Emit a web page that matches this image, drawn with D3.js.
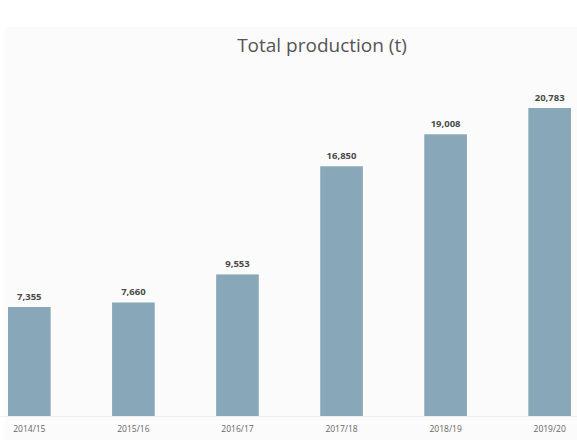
<!DOCTYPE html>
<html>
<head>
<meta charset="utf-8">
<style>
  body { margin: 0; background: #fff; }
  text { font-family: "Open Sans", "DejaVu Sans", sans-serif; }
</style>
</head>
<body>
<script src="https://d3js.org/d3.v7.min.js"></script>
<script>

var years = ["2014/15", "2015/16", "2016/17", "2017/18", "2018/19", "2019/20"];
var production = [7355, 7660, 9553, 16850, 19008, 20783];

var W = 577, H = 440;
var margin = {top: 108, right: 6, bottom: 24, left: 8};
var width = W - margin.left - margin.right,
    height = H - margin.top - margin.bottom;

var svg = d3.select("body").append("svg")
    .attr("width", W)
    .attr("height", H);

// faint panel behind the chart
svg.append("rect")
    .attr("x", 5).attr("y", 27)
    .attr("width", W - 5).attr("height", H - 27)
    .attr("fill", "#fbfbfb");

var g = svg.append("g")
    .attr("transform", "translate(" + margin.left + "," + margin.top + ")");

var x = d3.scaleBand()
    .domain(years)
    .range([0, width])
    .paddingInner(0.59)
    .paddingOuter(0);

var y = d3.scaleLinear()
    .domain([0, 20783])
    .range([height, 0]);

// baseline
g.append("line")
    .attr("x1", -8).attr("x2", width + 6)
    .attr("y1", height + 0.5).attr("y2", height + 0.5)
    .attr("stroke", "#eeeeee");

g.selectAll(".bar")
    .data(production)
  .enter().append("rect")
    .attr("class", "bar")
    .attr("x", function(d, i) { return x(years[i]); })
    .attr("y", function(d) { return y(d); })
    .attr("width", x.bandwidth())
    .attr("height", function(d) { return height - y(d); })
    .attr("fill", "#88a8ba");

g.selectAll(".val")
    .data(production)
  .enter().append("text")
    .attr("class", "val")
    .attr("x", function(d, i) { return x(years[i]) + x.bandwidth() / 2; })
    .attr("y", function(d) { return y(d) - 7; })
    .attr("text-anchor", "middle")
    .attr("font-size", 9.5)
    .attr("font-weight", "bold")
    .attr("fill", "#4a4a4a")
    .text(d3.format(","));

var xAxis = d3.axisBottom(x).tickSize(0).tickPadding(10);

g.append("g")
    .attr("transform", "translate(0," + height + ")")
    .call(xAxis)
    .call(function(s) { s.select(".domain").remove(); })
    .selectAll("text")
    .attr("font-size", 8.5)
    .attr("fill", "#666")
    .style("font-family", "'Open Sans', sans-serif");

svg.append("text")
    .attr("x", 322)
    .attr("y", 52)
    .attr("text-anchor", "middle")
    .attr("font-size", 19)
    .attr("fill", "#555")
    .text("Total production (t)");

</script>
</body>
</html>
